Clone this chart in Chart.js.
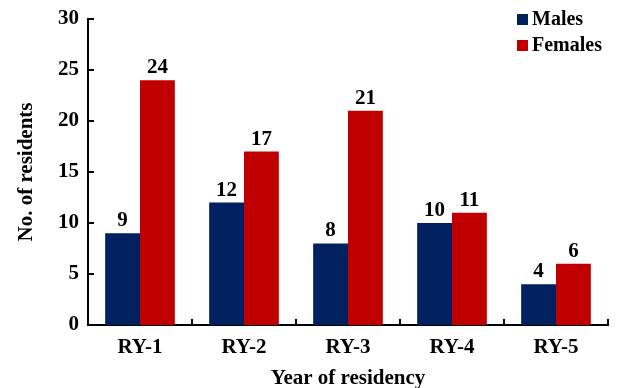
<!DOCTYPE html>
<html>
<head>
<meta charset="utf-8">
<script src="https://cdn.jsdelivr.net/npm/chart.js@4"></script>
<style>
  html, body { margin: 0; padding: 0; background: #fff; }
  #wrap { width: 627px; height: 388px; position: relative; }
</style>
</head>
<body>
<div id="wrap"><canvas id="c" width="627" height="388"></canvas></div>
<script>
const categories = ['RY-1', 'RY-2', 'RY-3', 'RY-4', 'RY-5'];
const males = [9, 12, 8, 10, 4];
const females = [24, 17, 21, 11, 6];
const yTicks = [0, 5, 10, 15, 20, 25, 30];

const FONT = '"Liberation Serif", "Times New Roman", serif';
const NAVY = '#002060';
const RED = '#C00000';

// Inward tick marks, value labels above bars, and the legend in the top-right corner
const decorations = {
  id: 'decorations',
  afterDatasetsDraw(chart) {
    const { ctx, chartArea, scales: { x, y } } = chart;
    ctx.save();
    ctx.strokeStyle = '#000';
    ctx.lineWidth = 2;
    // y tick marks pointing into the plot
    yTicks.forEach(v => {
      const py = Math.round(y.getPixelForValue(v));
      ctx.beginPath();
      ctx.moveTo(chartArea.left, py);
      ctx.lineTo(chartArea.left + 6, py);
      ctx.stroke();
    });
    // x tick marks at category boundaries
    const step = (chartArea.right - chartArea.left) / categories.length;
    for (let i = 1; i <= categories.length; i++) {
      const px = Math.round(chartArea.left + step * i);
      ctx.beginPath();
      ctx.moveTo(px, chartArea.bottom);
      ctx.lineTo(px, chartArea.bottom - 6);
      ctx.stroke();
    }
    // value labels
    ctx.fillStyle = '#000';
    ctx.font = 'bold 21px ' + FONT;
    ctx.textAlign = 'center';
    ctx.textBaseline = 'bottom';
    chart.data.datasets.forEach((ds, di) => {
      chart.getDatasetMeta(di).data.forEach((bar, i) => {
        ctx.fillText(String(ds.data[i]), bar.x, bar.y - 2);
      });
    });
    // legend
    const items = [['Males', NAVY, 19], ['Females', RED, 45]];
    ctx.font = 'bold 20px ' + FONT;
    ctx.textAlign = 'left';
    ctx.textBaseline = 'middle';
    items.forEach(([label, color, cy]) => {
      ctx.fillStyle = color;
      ctx.fillRect(517, cy - 5, 11, 11);
      ctx.fillStyle = '#000';
      ctx.fillText(label, 532, cy + 1);
    });
    ctx.restore();
  }
};

new Chart(document.getElementById('c'), {
  type: 'bar',
  data: {
    labels: categories,
    datasets: [
      { label: 'Males', data: males, backgroundColor: NAVY, borderWidth: 0 },
      { label: 'Females', data: females, backgroundColor: RED, borderWidth: 0 }
    ]
  },
  options: {
    responsive: false,
    animation: false,
    devicePixelRatio: 1,
    layout: { padding: { top: 19, right: 19, left: 14, bottom: 0 } },
    datasets: { bar: { categoryPercentage: 0.67, barPercentage: 1.0 } },
    plugins: { legend: { display: false }, tooltip: { enabled: false } },
    scales: {
      x: {
        grid: { display: false, drawTicks: false },
        border: { display: true, color: '#000', width: 2 },
        ticks: { color: '#000', font: { family: FONT, size: 21, weight: 'bold' }, padding: 10 },
        title: { display: true, text: 'Year of residency', color: '#000', font: { family: FONT, size: 21, weight: 'bold' }, padding: { top: 9, bottom: -3 } },
        afterFit(scale) { scale.height = 63; }
      },
      y: {
        min: 0,
        max: 30,
        grid: { display: false, drawTicks: false },
        border: { display: true, color: '#000', width: 2 },
        afterBuildTicks(scale) { scale.ticks = yTicks.map(v => ({ value: v })); },
        ticks: { color: '#000', font: { family: FONT, size: 21, weight: 'bold' }, padding: 9 },
        title: { display: true, text: 'No. of residents', color: '#000', font: { family: FONT, size: 21, weight: 'bold' }, padding: { top: 0, bottom: 0 } },
        afterFit(scale) { scale.width = 74; scale.paddingTop = 0; scale.paddingBottom = 0; }
      }
    }
  },
  plugins: [decorations]
});
</script>
</body>
</html>
